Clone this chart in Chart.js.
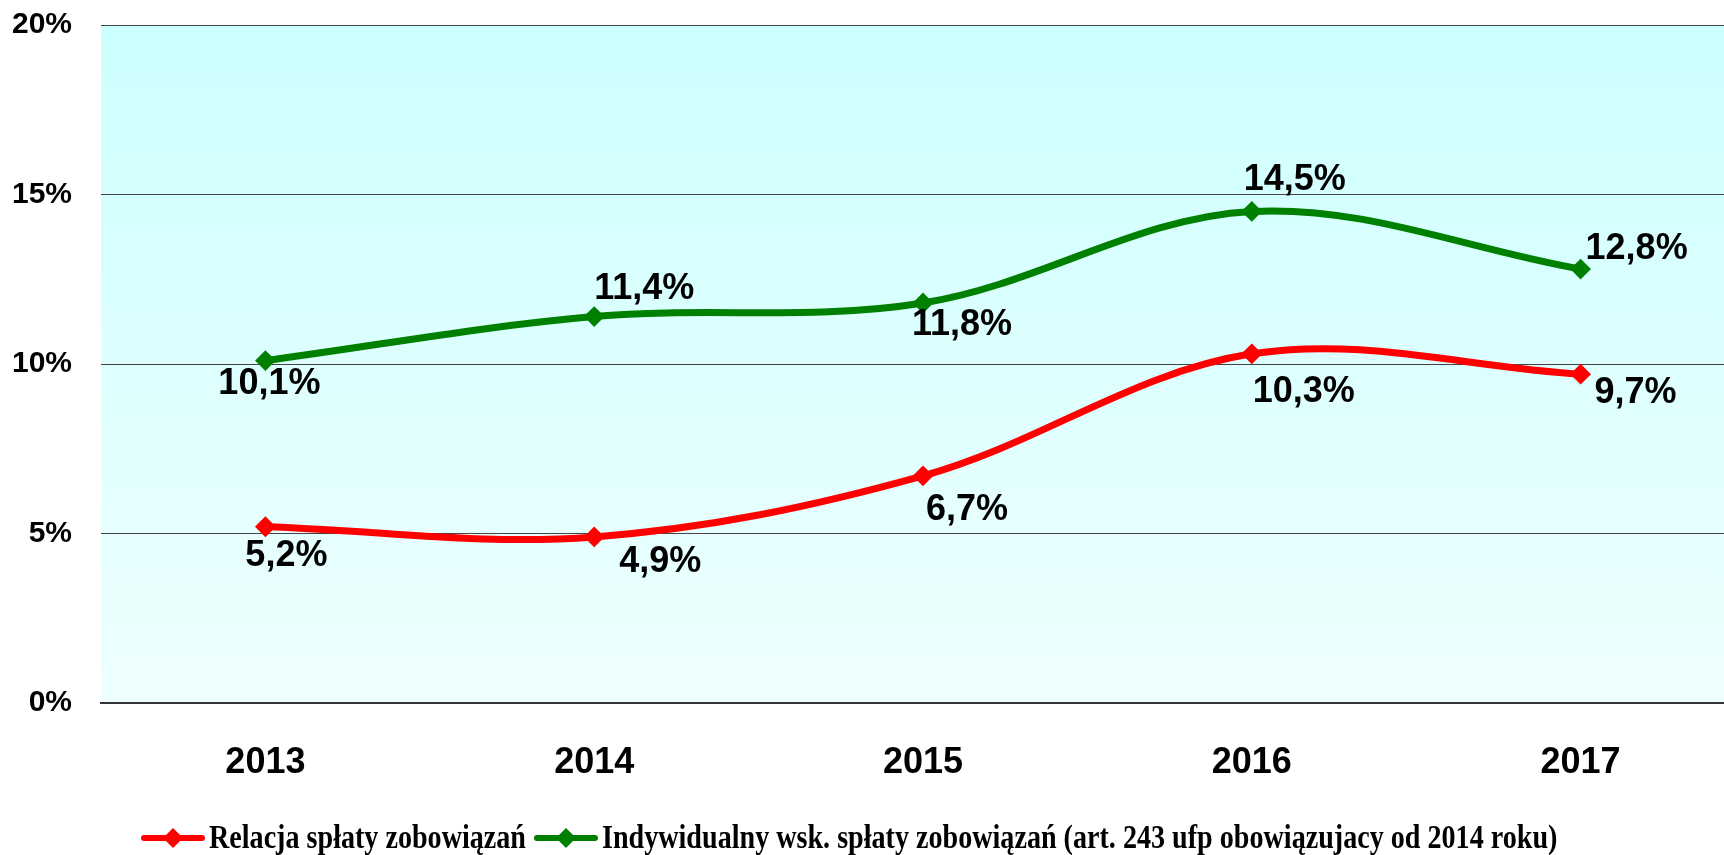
<!DOCTYPE html>
<html>
<head>
<meta charset="utf-8">
<script src="https://cdn.jsdelivr.net/npm/chart.js@4/dist/chart.umd.min.js"></script>
<style>
  html, body { margin: 0; padding: 0; background: #fff; overflow: hidden; }
  #wrap { width: 1724px; height: 855px; overflow: hidden; }
</style>
</head>
<body>
<div id="wrap"><canvas id="chart" width="1756" height="855"></canvas></div>
<script>
const years = ["2013", "2014", "2015", "2016", "2017"];
const relacja = [5.2, 4.9, 6.7, 10.3, 9.7];
const indywidualny = [10.1, 11.4, 11.8, 14.5, 12.8];
const yTicks = [0, 5, 10, 15, 20];
const seriesNames = [
  "Relacja spłaty zobowiązań",
  "Indywidualny wsk. spłaty zobowiązań (art. 243 ufp obowiązujacy od 2014 roku)"
];

// label offsets from the point (px), tuned by eye
const redLabelOffsets = [[21, 29], [66, 25], [44, 34], [52, 38], [55, 19]];
const greenLabelOffsets = [[4, 23], [50, -27], [39, 22], [43, -31], [56, -20]];

const fmt = v => v.toFixed(1).replace(".", ",") + "%";

const plotBg = {
  id: "plotBg",
  beforeDraw(chart) {
    const { ctx, chartArea: a } = chart;
    const g = ctx.createLinearGradient(0, a.top, 0, a.bottom);
    g.addColorStop(0, "#ccffff");
    g.addColorStop(1, "#eefffe");
    ctx.save();
    ctx.fillStyle = g;
    ctx.fillRect(a.left, a.top, a.right - a.left, a.bottom - a.top);
    ctx.restore();
  }
};

const pointLabels = {
  id: "pointLabels",
  afterDatasetsDraw(chart) {
    const ctx = chart.ctx;
    ctx.save();
    ctx.font = "bold 36px 'Liberation Sans', Arial, sans-serif";
    ctx.fillStyle = "#000";
    ctx.textAlign = "center";
    ctx.textBaseline = "middle";
    const offs = [redLabelOffsets, greenLabelOffsets];
    chart.data.datasets.forEach((ds, di) => {
      chart.getDatasetMeta(di).data.forEach((pt, i) => {
        const [dx, dy] = offs[di][i];
        ctx.fillText(fmt(ds.data[i]), pt.x + dx, pt.y + dy);
      });
    });
    ctx.restore();
  }
};

const legendDraw = {
  id: "legendDraw",
  afterDraw(chart) {
    const ctx = chart.ctx;
    const y = 838;
    ctx.save();
    ctx.font = "bold 33px 'Liberation Serif', 'Times New Roman', serif";
    const sx = 317 / ctx.measureText(seriesNames[0]).width;
    let x = 144;
    chart.data.datasets.forEach((ds, i) => {
      ctx.strokeStyle = ds.borderColor;
      ctx.lineWidth = 6;
      ctx.lineCap = "round";
      ctx.beginPath();
      ctx.moveTo(x, y);
      ctx.lineTo(x + 58, y);
      ctx.stroke();
      ctx.fillStyle = ds.borderColor;
      ctx.beginPath();
      ctx.moveTo(x + 29, y - 10);
      ctx.lineTo(x + 39, y);
      ctx.lineTo(x + 29, y + 10);
      ctx.lineTo(x + 19, y);
      ctx.closePath();
      ctx.fill();
      const tx = x + 65;
      const w = ctx.measureText(seriesNames[i]).width * sx;
      ctx.save();
      ctx.translate(tx, y);
      ctx.scale(sx, 1);
      ctx.fillStyle = "#000";
      ctx.textAlign = "left";
      ctx.textBaseline = "middle";
      ctx.fillText(seriesNames[i], 0, 1);
      ctx.restore();
      x = tx + w + 11;
    });
    ctx.restore();
  }
};

const makeSet = (label, data, color) => ({
  label,
  data,
  borderColor: color,
  backgroundColor: color,
  borderWidth: 7,
  tension: 0.35,
  pointStyle: "rectRot",
  pointRadius: 9,
  pointBorderWidth: 2,
  pointBackgroundColor: color,
  pointBorderColor: color
});

new Chart(document.getElementById("chart"), {
  type: "line",
  data: {
    labels: years,
    datasets: [
      makeSet(seriesNames[0], relacja, "#ff0000"),
      makeSet(seriesNames[1], indywidualny, "#008000")
    ]
  },
  options: {
    responsive: false,
    animation: false,
    devicePixelRatio: 1,
    layout: { padding: { top: 25, left: 0, right: 0, bottom: 0 } },
    plugins: {
      legend: { display: false },
      tooltip: { enabled: false }
    },
    scales: {
      x: {
        offset: true,
        grid: { display: false, drawTicks: false },
        border: { display: true, color: "#333", width: 2 },
        ticks: {
          color: "#000",
          font: { family: "'Liberation Sans', Arial, sans-serif", size: 36, weight: "bold" },
          padding: 38,
          maxRotation: 0
        },
        afterFit: s => { s.height = 152; }
      },
      y: {
        min: yTicks[0],
        max: yTicks[yTicks.length - 1],
        afterBuildTicks: s => { s.ticks = yTicks.map(v => ({ value: v })); },
        grid: { color: "#444", lineWidth: 1, drawTicks: false },
        border: { display: false },
        ticks: {
          color: "#000",
          font: { family: "'Liberation Sans', Arial, sans-serif", size: 30, weight: "bold" },
          padding: 29,
          callback: v => v + "%"
        },
        afterFit: s => { s.width = 101; s.paddingTop = 0; s.paddingBottom = 0; }
      }
    }
  },
  plugins: [plotBg, pointLabels, legendDraw]
});
</script>
</body>
</html>
